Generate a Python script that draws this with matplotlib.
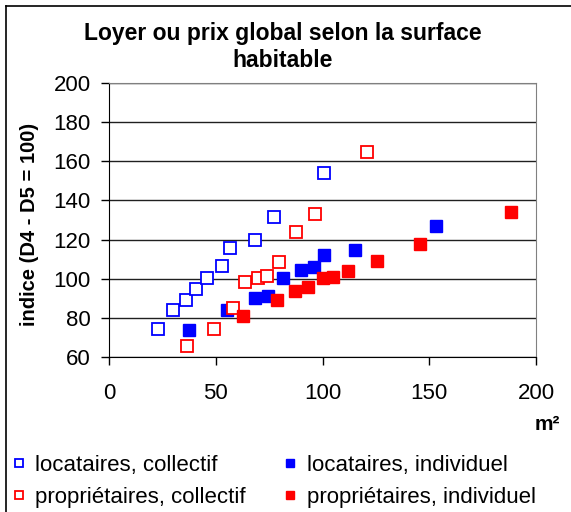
import matplotlib
matplotlib.use("Agg")
import matplotlib.pyplot as plt
from matplotlib.lines import Line2D

plt.rcParams['font.family'] = ['Liberation Sans', 'DejaVu Sans']

# surface (m²) and index (D4 - D5 = 100)
loc_coll_x = [23.0, 30.0, 36.1, 40.6, 46.1, 52.7, 56.9, 68.4, 77.3, 100.6]
loc_coll_y = [74.3, 84.2, 89.3, 94.9, 100.2, 106.6, 115.7, 119.6, 131.3, 153.8]

loc_ind_x = [37.7, 55.5, 68.4, 74.4, 81.6, 90.0, 95.8, 100.6, 115.3, 153.3]
loc_ind_y = [73.9, 84.2, 90.4, 91.3, 100.2, 104.2, 106.1, 111.9, 114.5, 126.7]

prop_coll_x = [36.6, 49.1, 58.0, 63.9, 69.8, 73.9, 79.8, 87.7, 96.4, 120.8]
prop_coll_y = [65.4, 74.5, 84.8, 98.3, 100.2, 101.5, 108.7, 124.0, 133.1, 164.9]

prop_ind_x = [62.7, 78.8, 87.0, 93.0, 100.0, 104.7, 111.9, 125.5, 145.5, 188.3]
prop_ind_y = [80.7, 89.3, 93.9, 95.8, 100.2, 100.9, 104.1, 109.3, 117.7, 133.9]

labels = ["locataires, collectif", "locataires, individuel",
          "propriétaires, collectif", "propriétaires, individuel"]

W, H = 571, 512
fig = plt.figure(figsize=(W / 100, H / 100), dpi=100)
ax = fig.add_axes([109 / W, (H - 357) / H, (536 - 109) / W, (357 - 83) / H])

# outer chart frame (left and top edges only visible)
fig.add_artist(Line2D([6 / W, 6 / W], [0, 1 - 6 / H], color="black", lw=1.2))
fig.add_artist(Line2D([6 / W, 1], [1 - 6 / H, 1 - 6 / H], color="black", lw=1.2))

blue, red = "#0000ff", "#ff0000"
ms = 8
h0, = ax.plot(loc_coll_x, loc_coll_y, ls="none", marker="s", ms=ms, mfc="white", mec=blue, mew=1.3)
h1, = ax.plot(loc_ind_x, loc_ind_y, ls="none", marker="s", ms=ms, mfc=blue, mec=blue, mew=1.0)
h2, = ax.plot(prop_coll_x, prop_coll_y, ls="none", marker="s", ms=ms, mfc="white", mec=red, mew=1.3)
h3, = ax.plot(prop_ind_x, prop_ind_y, ls="none", marker="s", ms=ms, mfc=red, mec=red, mew=1.0)

ax.set_xlim(0, 200)
ax.set_ylim(60, 200)
ax.set_xticks(range(0, 201, 50))
ax.set_yticks(range(60, 201, 20))
ax.yaxis.grid(True, color="#202020", lw=1.0)
ax.set_axisbelow(True)
for s in ["top", "right"]:
    ax.spines[s].set_color("#808080")
for s in ["left", "bottom"]:
    ax.spines[s].set_color("black")
ax.tick_params(axis="both", direction="out", length=6, width=1, labelsize=16)
ax.tick_params(axis="x", pad=13)
ax.tick_params(axis="y", pad=7)

fig.text(283 / W, 1 - 47 / H, "Loyer ou prix global selon la surface\nhabitable",
         ha="center", va="center", fontsize=16.5, fontweight="bold", linespacing=1.25)
fig.text(30 / W, 1 - 224 / H, "indice (D4 - D5 = 100)", rotation=90,
         ha="center", va="center", fontsize=14.5, fontweight="bold")
fig.text(547 / W, 1 - 425 / H, "m²", ha="center", va="center", fontsize=15, fontweight="bold")

# column-wise fill: order handles so rows read locataires / propriétaires
fig.legend([h0, h2, h1, h3], [labels[0], labels[2], labels[1], labels[3]],
           loc="upper left", bbox_to_anchor=(13 / W, 1 - 455 / H), ncol=2, frameon=False,
           fontsize=16, handlelength=0.5, handletextpad=0.5, columnspacing=1.75,
           markerscale=0.8, labelspacing=0.5, borderaxespad=0, borderpad=0)

fig.savefig("out.png", dpi=100)
